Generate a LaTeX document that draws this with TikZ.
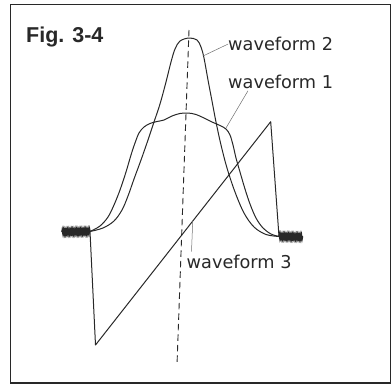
\documentclass[tikz,border=0pt]{standalone}
\usepackage{fontspec}
\newfontfamily\labfont{DejaVu Sans}
\newfontfamily\figfont{Liberation Sans}
\usepackage{tikz}
\usetikzlibrary{calc, positioning, decorations.pathmorphing}
\definecolor{InkGray}{RGB}{40,40,40}
\definecolor{LeadGray}{RGB}{110,110,110}

\begin{document}
\begin{tikzpicture}[x=1pt, y=-1pt,
	frame/.style={draw=InkGray, line width=1.3pt},
	wave/.style={draw=InkGray, line width=1pt, line join=round},
	axis/.style={draw=InkGray, line width=0.9pt, dash pattern=on 6.5pt off 4pt},
	noise/.style={draw=InkGray, line width=1.6pt, decorate,
		decoration={zigzag, segment length=1.3pt, amplitude=1.8pt}},
	ld/.style={draw=LeadGray, line width=0.5pt},
	lab/.style={font=\labfont\fontsize{17.7}{20}\selectfont, text=InkGray,
		inner sep=0pt, anchor=base west}]

	\useasboundingbox (0,0) rectangle (392,386);
	\draw[frame] (10.5,4.5) rectangle (390.5,383);

	\node[font=\figfont\bfseries\fontsize{21.5}{24}\selectfont, text=InkGray,
		inner sep=0pt, anchor=base west] (fig) at (26,42) {Fig. 3-4};

	% end points of the waveforms
	\coordinate (ls) at (90,231.5);
	\coordinate (re) at (279,236.5);
	\coordinate (sawbot) at (95.5,345);
	\coordinate (sawtop) at (270.7,121.7);

	% centre line
	\draw[axis] (189,30) -- (177,365);

	% noise on both sides
	\draw[noise] (62,232) -- (ls);
	\draw[noise] (re) -- (303,237);

	% waveform 1
	\draw[wave] plot[smooth, tension=0.55] coordinates {(90,231.5) (100,226) (108,217)
		(114,205) (120,190) (126,172) (131,155) (135,143) (139,133) (144,127)
		(150,123.5) (157,121.5) (164,120) (172,116) (180,113.5) (188,113) (196,114.5)
		(204,118) (212,122) (220,125.5) (226,129) (230,135) (233,145) (236,158)
		(240,172) (245,189) (250,204) (256,218) (263,228) (271,234) (279,236.5)};

	% waveform 2
	\draw[wave] plot[smooth, tension=0.55] coordinates {(90,231.5) (103,228) (114,221)
		(122,210) (128,196) (134,179) (141,160) (148,140) (154,122) (160,104)
		(166,82) (171,62) (175,49) (180,41) (189,38) (197,40) (201,47) (204,58)
		(208,80) (212,101) (216,122) (221,145) (227,168) (235,192) (244,213)
		(254,227) (266,234.5) (279,236.5)};

	% waveform 3
	\draw[wave] (ls) -- (sawbot) -- (sawtop) -- (re);

	% labels
	\node[lab] (wf2lab) at (228,50.7) {waveform 2};
	\node[lab] (wf1lab) at (228,88.3) {waveform 1};
	\node[lab] (wf3lab) at (186.5,268.3) {waveform 3};

	\coordinate (wf2pt) at (203,56);
	\coordinate (wf1pt) at (226,128);
	\coordinate (wf3pt) at ($(sawbot)!0.555!(sawtop)$);

	\draw[ld] (wf2pt) -- (wf2lab.west);
	\draw[ld] (wf1pt) -- ($(wf1lab.south west)+(20,2)$);
	\draw[ld] (wf3pt) -- ($(wf3lab.north west)+(5,-3)$);
\end{tikzpicture}
\end{document}
